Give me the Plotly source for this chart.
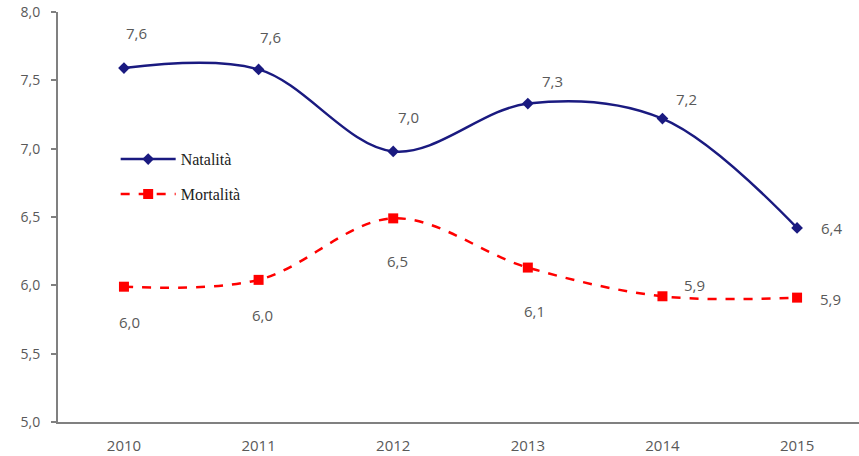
import plotly.graph_objects as go

years = ["2010", "2011", "2012", "2013", "2014", "2015"]
natalita = [7.59, 7.58, 6.98, 7.33, 7.22, 6.42]
mortalita = [5.99, 6.04, 6.49, 6.13, 5.92, 5.91]
y_ticks = [5.0, 5.5, 6.0, 6.5, 7.0, 7.5, 8.0]
y_ticklabels = [f"{v:.1f}".replace(".", ",") for v in y_ticks]

# label offsets in pixels (dx, dy screen-down)
nat_off = [(13, -35), (12, -32), (15, -34), (25, -23), (24, -20), (34, 0)]
mor_off = [(6, 35), (4, 35), (4, 43), (7, 43), (32, -11), (33, 1)]

NAVY = "#1a1a80"
RED = "#ff0000"
GRAY = "#595959"
SANS = "Open Sans, DejaVu Sans, sans-serif"
SERIF = "Liberation Serif, Times New Roman, serif"

fig = go.Figure()
fig.add_trace(go.Scatter(
    x=years, y=natalita, name="Natalità", mode="lines+markers",
    line=dict(color=NAVY, width=2.5, shape="spline", smoothing=1.0),
    marker=dict(symbol="diamond", size=9, color=NAVY),
    legend="legend", showlegend=True, hoverinfo="skip",
))
fig.add_trace(go.Scatter(
    x=years, y=mortalita, name="Mortalità", mode="lines+markers",
    line=dict(color=RED, width=2.5, dash="dash", shape="spline", smoothing=1.0),
    marker=dict(symbol="square", size=10, color=RED),
    legend="legend2", showlegend=True, hoverinfo="skip",
))

annotations = []
for vals, offs in ((natalita, nat_off), (mortalita, mor_off)):
    for i, (v, (dx, dy)) in enumerate(zip(vals, offs)):
        annotations.append(dict(
            x=i, y=v, xref="x", yref="y", showarrow=False,
            text=f"{v:.1f}".replace(".", ","),
            xshift=dx, yshift=-dy,
            font=dict(family=SANS, size=15, color=GRAY),
        ))

legend_font = dict(family=SERIF, size=16, color="#222222")
fig.update_layout(
    width=859, height=456,
    margin=dict(l=58, r=0, t=12, b=34),
    paper_bgcolor="white", plot_bgcolor="white",
    showlegend=True,
    annotations=annotations,
    legend=dict(x=0.072, y=0.641, xanchor="left", yanchor="middle", itemwidth=55,
                bgcolor="rgba(0,0,0,0)", font=legend_font),
    legend2=dict(x=0.072, y=0.556, xanchor="left", yanchor="middle", itemwidth=55,
                 bgcolor="rgba(0,0,0,0)", font=legend_font),
    xaxis=dict(
        type="category", range=[-0.49, 5.46], showgrid=False, zeroline=False,
        showline=True, linecolor="#808080", linewidth=2,
        ticks="", tickfont=dict(family=SANS, size=15, color=GRAY),
        ticklabelstandoff=9, automargin=False,
    ),
    yaxis=dict(
        range=[5.0, 8.0], tickvals=y_ticks, ticktext=y_ticklabels,
        showgrid=False, zeroline=False,
        showline=True, linecolor="#808080", linewidth=2,
        ticks="outside", ticklen=5, tickcolor="#808080", tickwidth=1.5,
        tickfont=dict(family=SANS, size=14, color=GRAY),
        ticklabelstandoff=8, automargin=False,
    ),
)

fig.write_html("out.html")
